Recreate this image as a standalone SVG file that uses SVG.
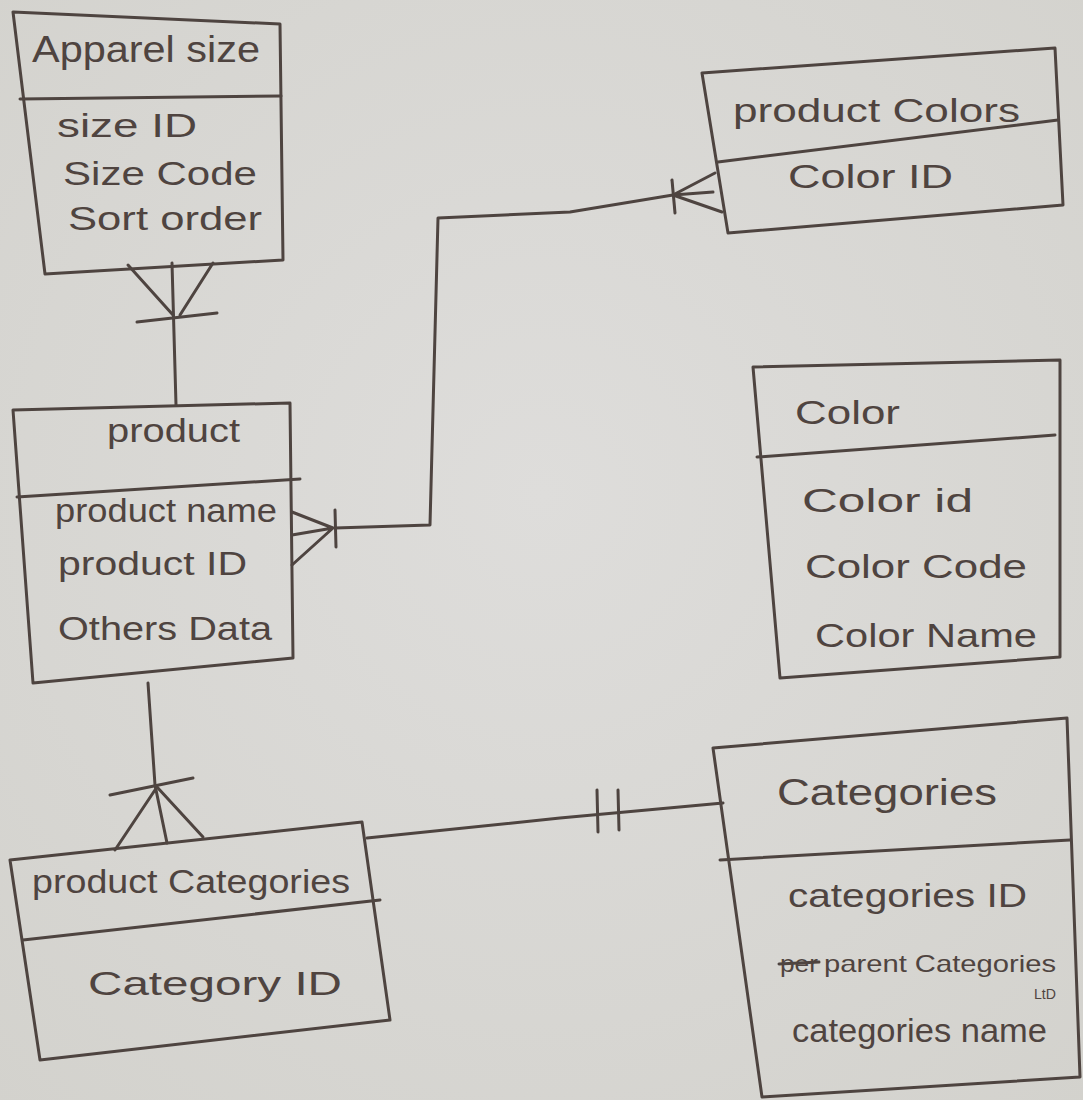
<svg xmlns="http://www.w3.org/2000/svg" width="1083" height="1100" viewBox="0 0 1083 1100">
  <defs>
    <style>
      .ink { fill: none; stroke: #4e4440; stroke-width: 3; stroke-linecap: round; stroke-linejoin: round; }
      .box { fill: none; stroke: #4e4440; stroke-width: 3; stroke-linejoin: round; }
      .t { font-family: "Liberation Sans", "DejaVu Sans", sans-serif; fill: #4f4440; font-size: 34px; }
      .title { font-size: 36px; }
      .mid { font-size: 24px; }
      .small { font-size: 15px; }
    </style>
    <radialGradient id="paper" cx="50%" cy="45%" r="75%">
      <stop offset="0" stop-color="#dedddb"/>
      <stop offset="1" stop-color="#d3d2cd"/>
    </radialGradient>
  </defs>

  <!-- paper background -->
  <rect width="1083" height="1100" fill="url(#paper)"/>

  <!-- Apparel size table -->
  <g id="apparel-size">
    <polygon class="box" points="13,12 280,24 283,260 45,274"/>
    <line class="ink" x1="20" y1="99" x2="281" y2="96"/>
    <text class="t title" x="32" y="62" textLength="228" lengthAdjust="spacingAndGlyphs">Apparel size</text>
    <text class="t" x="57" y="137" textLength="140" lengthAdjust="spacingAndGlyphs">size ID</text>
    <text class="t" x="63" y="185" textLength="194" lengthAdjust="spacingAndGlyphs">Size Code</text>
    <text class="t" x="68" y="230" textLength="194" lengthAdjust="spacingAndGlyphs">Sort order</text>
  </g>

  <!-- product table -->
  <g id="product">
    <polygon class="box" points="13,410 290,403 293,658 33,683"/>
    <line class="ink" x1="17" y1="497" x2="300" y2="479"/>
    <text class="t" x="107" y="442" textLength="133" lengthAdjust="spacingAndGlyphs">product</text>
    <text class="t" x="55" y="522" textLength="222" lengthAdjust="spacingAndGlyphs">product name</text>
    <text class="t" x="58" y="575" textLength="189" lengthAdjust="spacingAndGlyphs">product ID</text>
    <text class="t" x="58" y="640" textLength="214" lengthAdjust="spacingAndGlyphs">Others Data</text>
  </g>

  <!-- product Colors table -->
  <g id="product-colors">
    <polygon class="box" points="702,73 1055,48 1063,205 728,233"/>
    <line class="ink" x1="718" y1="162" x2="1058" y2="120"/>
    <text class="t" x="733" y="122" textLength="287" lengthAdjust="spacingAndGlyphs">product Colors</text>
    <text class="t" x="788" y="188" textLength="165" lengthAdjust="spacingAndGlyphs">Color ID</text>
  </g>

  <!-- Color table -->
  <g id="color">
    <polygon class="box" points="753,367 1060,360 1060,657 780,678"/>
    <line class="ink" x1="757" y1="457" x2="1055" y2="435"/>
    <text class="t" x="795" y="424" textLength="105" lengthAdjust="spacingAndGlyphs">Color</text>
    <text class="t" x="802" y="512" textLength="171" lengthAdjust="spacingAndGlyphs">Color id</text>
    <text class="t" x="805" y="578" textLength="222" lengthAdjust="spacingAndGlyphs">Color Code</text>
    <text class="t" x="815" y="647" textLength="222" lengthAdjust="spacingAndGlyphs">Color Name</text>
  </g>

  <!-- Categories table -->
  <g id="categories">
    <polygon class="box" points="713,748 1067,718 1080,1077 762,1097"/>
    <line class="ink" x1="720" y1="860" x2="1070" y2="840"/>
    <text class="t title" x="777" y="805" textLength="220" lengthAdjust="spacingAndGlyphs">Categories</text>
    <text class="t" x="788" y="907" textLength="239" lengthAdjust="spacingAndGlyphs">categories ID</text>
    <text class="t mid" x="780" y="972" textLength="38" lengthAdjust="spacingAndGlyphs">per</text>
    <!-- struck-out word -->
    <path class="ink" d="M779,964 L819,962" stroke-width="4"/>
    <text class="t mid" x="824" y="972" textLength="232" lengthAdjust="spacingAndGlyphs">parent Categories</text>
    <text class="t small" x="1034" y="999" textLength="22" lengthAdjust="spacingAndGlyphs">LtD</text>
    <text class="t" x="792" y="1042" textLength="255" lengthAdjust="spacingAndGlyphs">categories name</text>
  </g>

  <!-- product Categories table -->
  <g id="product-categories">
    <polygon class="box" points="10,860 362,822 390,1020 40,1060"/>
    <line class="ink" x1="23" y1="940" x2="380" y2="900"/>
    <text class="t" x="32" y="893" textLength="318" lengthAdjust="spacingAndGlyphs">product Categories</text>
    <text class="t" x="88" y="995" textLength="254" lengthAdjust="spacingAndGlyphs">Category ID</text>
  </g>

  <!-- relationships -->
  <g id="connectors">
    <!-- Apparel size (many) to product -->
    <path class="ink" d="M172,263 L176,405"/>
    <path class="ink" d="M128,265 L173,315 M213,263 L180,315"/>
    <path class="ink" d="M137,322 L217,313"/>

    <!-- product (many) to product Colors (many) -->
    <path class="ink" d="M335,528 L430,525 L438,218 L570,212 L673,195"/>
    <path class="ink" d="M292,512 L333,528 M292,535 L333,528 M292,565 L333,528"/>
    <path class="ink" d="M335,510 L336,547"/>
    <path class="ink" d="M673,195 L715,173 M673,195 L713,192 M673,195 L722,212"/>
    <path class="ink" d="M672,180 L675,213"/>

    <!-- product to product Categories (many) -->
    <path class="ink" d="M148,683 L155,785 L167,843"/>
    <path class="ink" d="M110,795 L193,778"/>
    <path class="ink" d="M115,850 L157,787 L203,837"/>

    <!-- product Categories to Categories (one) -->
    <path class="ink" d="M367,838 L560,818 L723,803"/>
    <path class="ink" d="M597,790 L598,832 M618,790 L619,830"/>
  </g>
</svg>
